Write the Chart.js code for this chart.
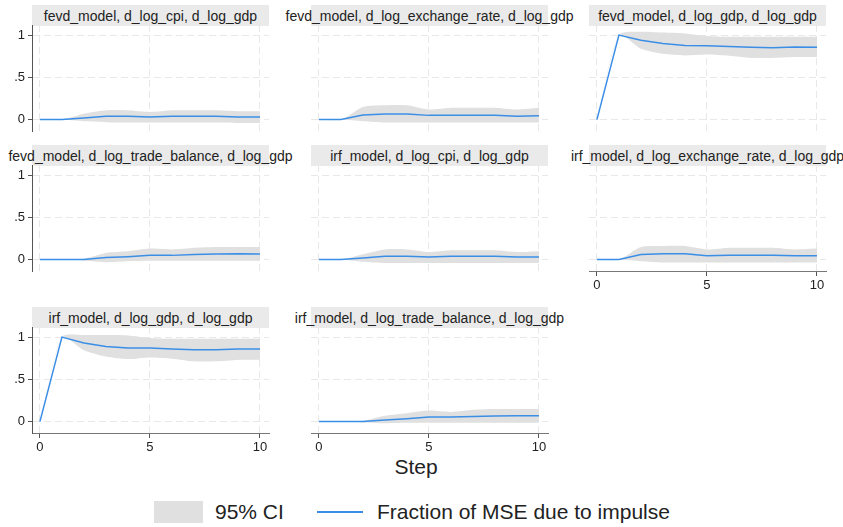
<!DOCTYPE html>
<html>
<head>
<meta charset="utf-8">
<script src="https://cdn.jsdelivr.net/npm/chart.js@4.4.0/dist/chart.umd.min.js"></script>
<style>
  body { margin: 0; background: #fff; font-family: "Liberation Sans", Arial, sans-serif; overflow: hidden; }
  #page { position: relative; width: 843px; height: 527px; overflow: hidden; }
  #page canvas { position: absolute; }
  .band { position: absolute; height: 21px; background: #eaeaea; display: flex;
          justify-content: center; align-items: center; white-space: nowrap;
          font-size: 14px; color: #222; }
  .txt { position: absolute; white-space: nowrap; color: #222; }
</style>
</head>
<body>
<div id="page">
  <div class="txt" style="left:0;width:832px;top:455px;line-height:24px;font-size:21px;text-align:center">Step</div>
  <div style="position:absolute;left:154px;top:501px;width:49px;height:22px;background:#e0e0e0"></div>
  <div class="txt" style="left:215px;top:500px;line-height:24px;font-size:21px">95% CI</div>
  <div style="position:absolute;left:317px;top:511px;width:46px;height:2px;background:#3b8ee6"></div>
  <div class="txt" style="left:377px;top:500px;line-height:24px;font-size:21px">Fraction of MSE due to impulse</div>
</div>
<script>
// step 0..10, values
const steps = [0, 1, 2, 3, 4, 5, 6, 7, 8, 9, 10];
const xTicks = [0, 5, 10];
const yTicks = [0, 0.5, 1];

const fevdCpiFrac = [0, 0, 0.02, 0.04, 0.04, 0.03, 0.04, 0.04, 0.04, 0.03, 0.03];
const fevdCpiHi   = [0, 0, 0.07, 0.11, 0.11, 0.09, 0.11, 0.11, 0.11, 0.10, 0.10];
const fevdCpiLo   = [0, 0, -0.02, -0.03, -0.035, -0.035, -0.035, -0.035, -0.035, -0.04, -0.04];

const fevdExchFrac = [0, 0, 0.055, 0.065, 0.065, 0.05, 0.05, 0.05, 0.05, 0.04, 0.045];
const fevdExchHi   = [0, 0, 0.15, 0.17, 0.17, 0.12, 0.14, 0.14, 0.14, 0.12, 0.14];
const fevdExchLo   = [0, 0, -0.02, -0.035, -0.035, -0.035, -0.035, -0.035, -0.035, -0.035, -0.035];

const fevdGdpFrac = [0, 1, 0.94, 0.90, 0.877, 0.873, 0.865, 0.857, 0.85, 0.86, 0.857];
const fevdGdpHi   = [0, 1, 1.04, 1.03, 1.02, 0.99, 0.98, 0.98, 0.98, 0.98, 0.98];
const fevdGdpLo   = [0, 1, 0.84, 0.78, 0.76, 0.77, 0.755, 0.73, 0.73, 0.74, 0.74];

const fevdTradeFrac = [0, 0, 0, 0.024, 0.035, 0.05, 0.05, 0.06, 0.065, 0.07, 0.065];
const fevdTradeHi   = [0, 0, 0.01, 0.078, 0.098, 0.13, 0.12, 0.14, 0.15, 0.15, 0.15];
const fevdTradeLo   = [0, 0, -0.01, -0.03, -0.02, -0.015, -0.015, -0.015, -0.015, -0.015, -0.015];

const irfCpiFrac = [0, 0, 0.02, 0.04, 0.04, 0.032, 0.04, 0.04, 0.04, 0.032, 0.032];
const irfCpiHi   = [0, 0, 0.063, 0.12, 0.12, 0.09, 0.11, 0.11, 0.11, 0.09, 0.10];
const irfCpiLo   = [0, 0, -0.025, -0.04, -0.04, -0.04, -0.04, -0.04, -0.04, -0.04, -0.04];

const irfExchFrac = [0, 0, 0.06, 0.07, 0.07, 0.045, 0.05, 0.05, 0.05, 0.045, 0.045];
const irfExchHi   = [0, 0, 0.15, 0.16, 0.16, 0.12, 0.14, 0.14, 0.14, 0.12, 0.13];
const irfExchLo   = [0, 0, -0.02, -0.035, -0.035, -0.035, -0.035, -0.035, -0.035, -0.035, -0.035];

const irfGdpFrac = [0, 1, 0.93, 0.89, 0.87, 0.87, 0.86, 0.85, 0.85, 0.86, 0.86];
const irfGdpHi   = [0, 1, 1.024, 1.024, 1.02, 0.99, 0.98, 0.98, 0.98, 0.98, 0.98];
const irfGdpLo   = [0, 1, 0.845, 0.77, 0.74, 0.76, 0.745, 0.714, 0.714, 0.73, 0.73];

const irfTradeFrac = [0, 0, 0, 0.02, 0.035, 0.055, 0.055, 0.06, 0.065, 0.07, 0.07];
const irfTradeHi   = [0, 0, 0.01, 0.07, 0.10, 0.13, 0.115, 0.14, 0.15, 0.15, 0.15];
const irfTradeLo   = [0, 0, -0.01, -0.02, -0.015, -0.015, -0.015, -0.015, -0.015, -0.015, -0.015];

const panels = [
  { title: "fevd_model, d_log_cpi, d_log_gdp", frac: fevdCpiFrac, hi: fevdCpiHi, lo: fevdCpiLo, row: 0, col: 0 },
  { title: "fevd_model, d_log_exchange_rate, d_log_gdp", frac: fevdExchFrac, hi: fevdExchHi, lo: fevdExchLo, row: 0, col: 1 },
  { title: "fevd_model, d_log_gdp, d_log_gdp", frac: fevdGdpFrac, hi: fevdGdpHi, lo: fevdGdpLo, row: 0, col: 2 },
  { title: "fevd_model, d_log_trade_balance, d_log_gdp", frac: fevdTradeFrac, hi: fevdTradeHi, lo: fevdTradeLo, row: 1, col: 0 },
  { title: "irf_model, d_log_cpi, d_log_gdp", frac: irfCpiFrac, hi: irfCpiHi, lo: irfCpiLo, row: 1, col: 1 },
  { title: "irf_model, d_log_exchange_rate, d_log_gdp", frac: irfExchFrac, hi: irfExchHi, lo: irfExchLo, row: 1, col: 2 },
  { title: "irf_model, d_log_gdp, d_log_gdp", frac: irfGdpFrac, hi: irfGdpHi, lo: irfGdpLo, row: 2, col: 0 },
  { title: "irf_model, d_log_trade_balance, d_log_gdp", frac: irfTradeFrac, hi: irfTradeHi, lo: irfTradeLo, row: 2, col: 1 },
];

const colLeft = [32, 311, 589];
const rowTop = [25, 165, 327];
const plotW = 237, plotH = 106, PAD = 12;
const BLUE = "#3b8ee6", BAND = "#e0e0e0", GRID = "#e8e8e8", AXIS = "#555";

Chart.defaults.font.family = '"Liberation Sans", Arial, sans-serif';

const page = document.getElementById("page");
const pts = (ys) => steps.map((s, i) => ({ x: s, y: ys[i] }));

panels.forEach((p) => {
  const showY = p.col === 0;
  const showX = p.row === 2 || (p.row === 1 && p.col === 2);
  const yw = showY ? 32 : 0;
  const xh = showX ? 24 : 0;

  const band = document.createElement("div");
  band.className = "band";
  band.style.left = colLeft[p.col] + "px";
  band.style.top = (rowTop[p.row] - 20) + "px";
  band.style.width = plotW + "px";
  band.textContent = p.title;
  page.appendChild(band);

  const cv = document.createElement("canvas");
  cv.width = PAD * 2 + yw + plotW;
  cv.height = PAD * 2 + plotH + xh;
  cv.style.left = (colLeft[p.col] - yw - PAD) + "px";
  cv.style.top = (rowTop[p.row] - PAD) + "px";
  page.appendChild(cv);

  new Chart(cv, {
    type: "line",
    data: {
      datasets: [
        { label: "Fraction of MSE due to impulse", data: pts(p.frac), borderColor: BLUE,
          borderWidth: 1.5, pointRadius: 0, fill: false, order: 0 },
        { label: "95% CI", data: pts(p.hi), borderColor: "transparent", borderWidth: 0,
          backgroundColor: BAND, pointRadius: 0, fill: "+1", tension: 0.25, order: 1 },
        { label: "95% CI lower", data: pts(p.lo), borderColor: "transparent", borderWidth: 0,
          pointRadius: 0, fill: false, tension: 0.25, order: 1 },
      ],
    },
    options: {
      responsive: false,
      animation: false,
      events: [],
      layout: { padding: PAD },
      plugins: { legend: { display: false }, tooltip: { enabled: false } },
      scales: {
        x: {
          type: "linear", min: -0.36, max: 10.41,
          afterBuildTicks: (s) => { s.ticks = xTicks.map((v) => ({ value: v })); },
          afterFit: (s) => { s.height = xh; },
          ticks: { display: showX, font: { size: 13 }, color: "#222", padding: 2, maxRotation: 0 },
          grid: { color: GRID, drawTicks: showX, tickLength: 5, tickColor: AXIS },
          border: { display: showX, color: "#777", width: 1, dash: [7, 4] },
        },
        y: {
          min: -0.135, max: 1.12,
          afterBuildTicks: (s) => { s.ticks = yTicks.map((v) => ({ value: v })); },
          afterFit: (s) => { s.width = yw; },
          ticks: { display: showY, font: { size: 13 }, color: "#222", padding: 3,
                   callback: (v) => (v === 0.5 ? ".5" : String(v)) },
          grid: { color: GRID, drawTicks: showY, tickLength: 4, tickColor: AXIS },
          border: { display: showY, color: AXIS, width: 1, dash: [7, 4] },
        },
      },
    },
  });
});
</script>
</body>
</html>
